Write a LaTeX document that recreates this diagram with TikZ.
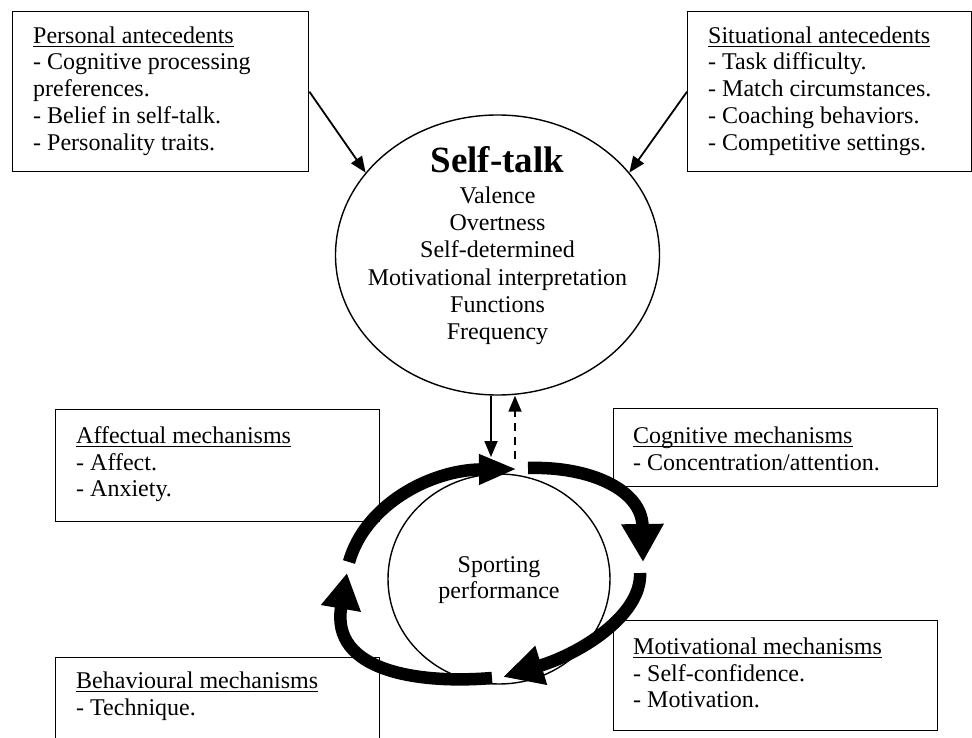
\documentclass[tikz,border=0pt]{standalone}
\usepackage{fontspec}
\setmainfont{Liberation Serif}
\usetikzlibrary{shapes.geometric,arrows.meta,calc}
% underline at a fixed depth, independent of descenders
\newsavebox\ulbox
\newcommand{\ultext}[1]{\sbox\ulbox{#1}\rlap{\rule[-4pt]{\wd\ulbox}{1.5pt}}\usebox\ulbox}
\begin{document}
\begin{tikzpicture}[x=1pt,y=-1pt,
  mbox/.style={draw, line width=1.4pt, fill=white, rectangle, inner sep=0pt, anchor=north west},
  lbl/.style={anchor=north west, align=left, inner sep=0pt, font=\fontsize{24}{26.8}\selectfont},
  oval/.style={draw, ellipse, line width=1.4pt, inner sep=0pt},
  thinarrow/.style={line width=1.8pt, -{Triangle[length=16pt,width=13pt]}},
  flow/.style={line width=12.5pt}]
\useasboundingbox (0,0) rectangle (972,738);

% mechanism and antecedent boxes
\node[mbox, minimum width=296pt, minimum height=160pt] (pers) at (12,11) {};
\node[mbox, minimum width=284pt, minimum height=160pt] (sit) at (687,11) {};
\node[mbox, minimum width=324pt, minimum height=112pt] (aff) at (55,409) {};
\node[mbox, minimum width=324pt, minimum height=78pt] (cog) at (613,408) {};
\node[mbox, minimum width=324pt, minimum height=110pt] (mot) at (613,620) {};
\node[mbox, minimum width=324pt, minimum height=110pt] (beh) at (55,657) {};

% box texts
\node[lbl] (perst) at (33,24.24) {\strut\ultext{Personal antecedents}\\- Cognitive processing\\preferences.\\- Belief in self-talk.\\- Personality traits.};
\node[lbl] (sitt) at (708,24.24) {\strut\ultext{Situational antecedents}\\- Task difficulty.\\- Match circumstances.\\- Coaching behaviors.\\- Competitive settings.};
\node[lbl] (afft) at (76,424.24) {\strut\ultext{Affectual mechanisms}\\- Affect.\\- Anxiety.};
\node[lbl] (cogt) at (633,424.24) {\strut\ultext{Cognitive mechanisms}\\- Concentration/attention.};
\node[lbl] (mott) at (633,635.24) {\strut\ultext{Motivational mechanisms}\\- Self-confidence.\\- Motivation.};
\node[lbl] (beht) at (76,669.24) {\strut\ultext{Behavioural mechanisms}\\- Technique.};

% self-talk ellipse
\node[oval, minimum width=324pt, minimum height=280pt] (st) at (497.5,255) {};
\node[anchor=base, inner sep=0pt, font=\fontsize{37}{40}\selectfont\bfseries] (stt) at (497.5,173) {Self-talk};
\node[anchor=north, align=center, inner sep=0pt, font=\fontsize{24}{27.3}\selectfont] (stb) at (497.5,183.9)
  {\strut Valence\\Overtness\\Self-determined\\Motivational interpretation\\Functions\\Frequency};

% sporting performance ellipse
\node[oval, minimum width=222pt, minimum height=210pt] (sp) at (499,579) {};
\node[anchor=north, align=center, inner sep=0pt, font=\fontsize{24}{26}\selectfont] (spt) at (499,553.8)
  {\strut Sporting\\performance};

% antecedents feeding self-talk
\draw[thinarrow] (pers.east) -- (st.148);
\draw[thinarrow] (sit.west) -- (st.32);

% self-talk <-> performance cycle
\coordinate (downtip) at (491,457);
\coordinate (upfoot) at (515,459);
\draw[thinarrow] (st.south -| downtip) -- (downtip);
\draw[thinarrow, dash pattern=on 8pt off 6pt] (upfoot) -- (upfoot |- st.south);

% thick cycle arrows around the performance ellipse
\coordinate (c1s) at (349,562); \coordinate (c1e) at (517,469);
\coordinate (c2s) at (528,468); \coordinate (c2e) at (643,562);
\coordinate (c3s) at (640,573); \coordinate (c3e) at (503,677);
\coordinate (c4s) at (492,678); \coordinate (c4e) at (347,573);
\draw[flow, -{Triangle[length=38pt,width=28pt]}] (c1s) .. controls (365,505) and (430,470) .. (c1e);
\draw[flow, -{Triangle[length=38pt,width=40pt]}] (c2s) .. controls (590,466) and (642,490) .. (c2e);
\draw[flow, -{Triangle[length=40pt,width=38pt]}] (c3s) .. controls (642,613) and (585,652) .. (c3e);
\draw[flow, -{Triangle[length=36pt,width=38pt]}] (c4s) .. controls (420,684) and (330,672) .. (c4e);
\end{tikzpicture}
\end{document}
